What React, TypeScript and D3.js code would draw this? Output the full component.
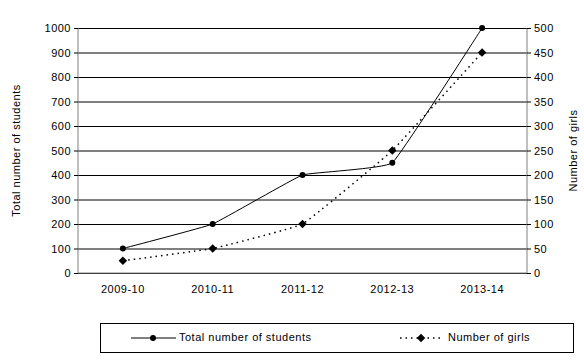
import { useEffect, useRef } from 'react';
import * as d3 from 'd3';

const years = ['2009-10', '2010-11', '2011-12', '2012-13', '2013-14'];
const totalStudents = [100, 200, 400, 450, 1000];
const girls = [25, 50, 100, 250, 450];
const leftTicks = [0, 100, 200, 300, 400, 500, 600, 700, 800, 900, 1000];
const rightTicks = [0, 50, 100, 150, 200, 250, 300, 350, 400, 450, 500];

export default function App() {
  const svgRef = useRef<SVGSVGElement>(null);

  useEffect(() => {
    if (!svgRef.current) return;
    const svg = d3.select(svgRef.current);
    svg.selectAll('*').remove();

    const width = 584;
    const height = 363;
    const margin = { top: 28, right: 57, bottom: 90, left: 78 };
    const chartWidth = width - margin.left - margin.right;
    const chartHeight = height - margin.top - margin.bottom;
    const font = "'Liberation Sans', Arial, sans-serif";

    svg.append('rect').attr('width', width).attr('height', height).attr('fill', '#fff');

    const g = svg.append('g').attr('transform', `translate(${margin.left},${margin.top})`);

    const xScale = d3.scaleBand().domain(years).range([0, chartWidth]);
    const yLeft = d3.scaleLinear().domain([0, 1000]).range([chartHeight, 0]);
    const yRight = d3.scaleLinear().domain([0, 500]).range([chartHeight, 0]);
    const cx = (d: string) => (xScale(d) ?? 0) + xScale.bandwidth() / 2;

    // Grid lines
    g.append('g')
      .call(d3.axisLeft(yLeft).tickValues(leftTicks).tickSize(-chartWidth).tickFormat(() => ''))
      .call(s => s.select('.domain').remove())
      .selectAll('line')
      .attr('stroke', '#000');

    const styleText = (sel: any) => sel
      .style('font-family', font).style('font-size', '11px').style('letter-spacing', '0.5px').attr('fill', '#000');

    // Left axis
    const leftAxis = g.append('g')
      .call(d3.axisLeft(yLeft).tickValues(leftTicks).tickSize(4).tickPadding(3).tickFormat(d3.format('d')));
    leftAxis.select('.domain').attr('stroke', '#808080').attr('d', `M0,0V${chartHeight}`);
    leftAxis.selectAll('line').attr('stroke', '#000');
    styleText(leftAxis.selectAll('text'));

    // Right axis
    const rightAxis = g.append('g')
      .attr('transform', `translate(${chartWidth},0)`)
      .call(d3.axisRight(yRight).tickValues(rightTicks).tickSize(4).tickPadding(3).tickFormat(d3.format('d')));
    rightAxis.select('.domain').attr('stroke', '#808080').attr('d', `M0,0V${chartHeight}`);
    rightAxis.selectAll('line').attr('stroke', '#000');
    styleText(rightAxis.selectAll('text'));

    // Bottom axis
    const bottomAxis = g.append('g')
      .attr('transform', `translate(0,${chartHeight})`)
      .call(d3.axisBottom(xScale).tickSize(0).tickPadding(12));
    bottomAxis.select('.domain').attr('stroke', '#808080').attr('d', `M0,0H${chartWidth}`);
    styleText(bottomAxis.selectAll('text'));

    const curve = d3.curveCardinal.tension(0.75);

    // Total students line
    const lineTotal = d3.line<number>()
      .x((_, i) => cx(years[i]))
      .y(d => yLeft(d))
      .curve(curve);
    g.append('path').datum(totalStudents)
      .attr('d', lineTotal).attr('fill', 'none').attr('stroke', '#000').attr('stroke-width', 1);

    // Girls line
    const lineGirls = d3.line<number>()
      .x((_, i) => cx(years[i]))
      .y(d => yRight(d))
      .curve(curve);
    g.append('path').datum(girls)
      .attr('d', lineGirls).attr('fill', 'none').attr('stroke', '#000')
      .attr('stroke-width', 1.5).attr('stroke-dasharray', '1.5,4');

    g.selectAll('.dot-total').data(totalStudents).enter().append('circle')
      .attr('cx', (_, i) => cx(years[i])).attr('cy', d => yLeft(d)).attr('r', 3).attr('fill', '#000');

    const diamond = d3.symbol().type(d3.symbolSquare).size(36);
    g.selectAll('.dot-girls').data(girls).enter().append('path')
      .attr('d', diamond)
      .attr('transform', (d, i) => `translate(${cx(years[i])},${yRight(d)}) rotate(45)`)
      .attr('fill', '#000');

    // Axis titles
    svg.append('text')
      .attr('transform', `translate(17,${margin.top + chartHeight / 2}) rotate(-90)`)
      .attr('text-anchor', 'middle').attr('dominant-baseline', 'middle')
      .call(styleText)
      .text('Total number of students');
    svg.append('text')
      .attr('transform', `translate(574,${margin.top + chartHeight / 2}) rotate(-90)`)
      .attr('text-anchor', 'middle').attr('dominant-baseline', 'middle')
      .call(styleText)
      .text('Number of girls');

    // Legend
    const legend = svg.append('g');
    legend.append('rect')
      .attr('x', 100.5).attr('y', 323.5).attr('width', 473).attr('height', 29)
      .attr('fill', '#fff').attr('stroke', '#000').attr('stroke-width', 1);
    legend.append('line').attr('x1', 131).attr('x2', 176).attr('y1', 338).attr('y2', 338)
      .attr('stroke', '#000');
    legend.append('circle').attr('cx', 153).attr('cy', 338).attr('r', 3).attr('fill', '#000');
    legend.append('text').attr('x', 179).attr('y', 338).attr('dominant-baseline', 'middle')
      .call(styleText)
      .text('Total number of students');
    legend.append('line').attr('x1', 400).attr('x2', 442).attr('y1', 338).attr('y2', 338)
      .attr('stroke', '#000').attr('stroke-width', 1.5).attr('stroke-dasharray', '1.5,4');
    legend.append('path').attr('d', diamond).attr('transform', 'translate(421,338) rotate(45)').attr('fill', '#000');
    legend.append('text').attr('x', 448).attr('y', 338).attr('dominant-baseline', 'middle')
      .call(styleText)
      .text('Number of girls');
  }, []);

  return (
    <svg ref={svgRef} width={584} height={363}
      style={{ position: 'absolute', left: 0, top: 0, display: 'block' }} />
  );
}
